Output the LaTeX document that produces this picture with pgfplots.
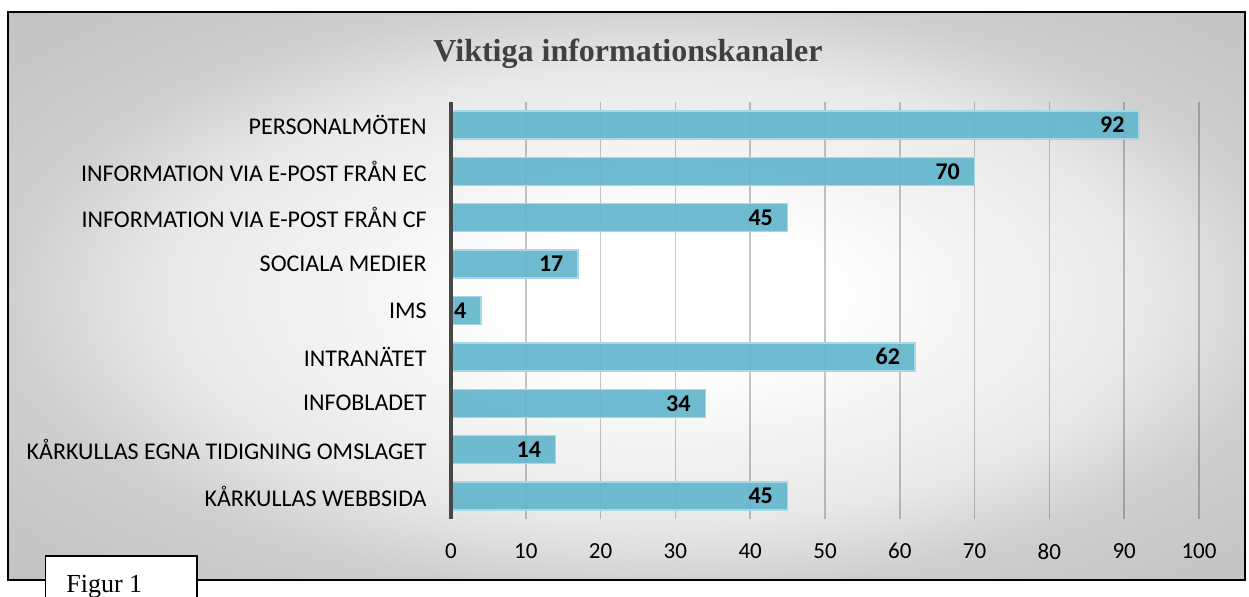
\documentclass[border=0pt]{standalone}
\usepackage{fontspec}
\setmainfont{Carlito}
\newfontfamily\timesf{Liberation Serif}
\usepackage{pgfplots}
\pgfplotsset{compat=1.18}
\definecolor{barfill}{HTML}{64B6CC}
\definecolor{bardraw}{HTML}{A8D8E5}
\definecolor{titlegray}{HTML}{404040}
\pgfdeclareradialshading{bgshade}{\pgfpoint{2bp}{0bp}}{color(0bp)=(white); color(6bp)=(white); color(20bp)=(black!9); color(26bp)=(black!19); color(36bp)=(black!24); color(50bp)=(black!24)}
\begin{document}
\begin{tikzpicture}
\useasboundingbox (0,0) rectangle (624.5pt,298pt);
\clip (0,0) rectangle (624.5pt,298pt);
\fill[white] (0,0) rectangle (624.5pt,298pt);
\shade[shading=bgshade] (4pt,8pt) rectangle (622.5pt,292pt);
\draw[line width=1pt,black] (4pt,8pt) rectangle (622.5pt,292pt);
\node[anchor=base, font=\timesf\bfseries\fontsize{16}{19}\selectfont, text=titlegray, inner sep=0pt] at (314pt,267pt) {Viktiga informationskanaler};
\begin{axis}[
  at={(225.5pt,38.4pt)}, anchor=south west,
  scale only axis, width=374pt, height=208.7pt,
  xmin=0, xmax=100, ymin=-0.5, ymax=8.5,
  xtick={0,10,...,100},
  ytick={0,...,8},
  yticklabels={KÅRKULLAS WEBBSIDA, KÅRKULLAS EGNA TIDIGNING OMSLAGET, INFOBLADET, INTRANÄTET, IMS, SOCIALA MEDIER, INFORMATION VIA E-POST FRÅN CF, INFORMATION VIA E-POST FRÅN EC, PERSONALMÖTEN},
  major tick length=0pt,
  axis line style={draw=none},
  xmajorgrids, grid style={black, opacity=0.22, line width=0.75pt},
  /pgf/number format/assume math mode=true,
  xticklabel style={font=\fontsize{11.5}{13}\selectfont, inner sep=0pt, yshift=-11.9pt},
  yticklabel style={font=\fontsize{12}{14}\selectfont, inner sep=0pt, xshift=-12pt},
  xbar, bar width=14pt,
  nodes near coords, point meta=x,
  nodes near coords style={anchor=east, inner sep=0pt, xshift=-7pt, font=\bfseries\fontsize{12}{14}\selectfont, text=black},
  clip=false,
]
\addplot[fill=barfill, draw=bardraw, line width=0.75pt, fill opacity=0.92, text opacity=1] coordinates {
(45,0) (14,1) (34,2) (62,3) (4,4) (17,5) (45,6) (70,7) (92,8)};
\draw[line width=1.6pt, black!72] (axis cs:0,-0.5) -- (axis cs:0,8.5);
\end{axis}
\draw[fill=white, line width=0.75pt] (22.75pt,20pt) rectangle (98.5pt,-5pt);
\node[anchor=base west, inner sep=0pt, font=\timesf\fontsize{13}{15}\selectfont] at (33pt,2pt) {Figur 1};
\end{tikzpicture}
\end{document}
